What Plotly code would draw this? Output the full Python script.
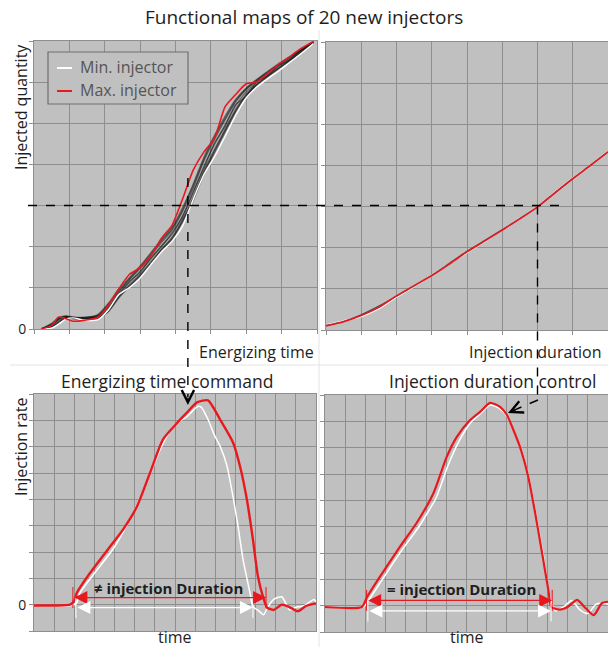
import plotly.graph_objects as go

W, H = 608, 647

# ---------------- data ----------------
# Top-left: injected quantity vs energizing time, 20 new injectors
ET_X = [0.2, 0.5, 0.7, 0.9, 1.1, 1.4, 1.8, 2.1, 2.4, 2.7, 3.0, 3.3, 3.6, 3.9,
        4.2, 4.5, 4.8, 5.1, 5.4, 5.7, 6.0, 6.3, 6.6, 6.9, 7.2, 7.5, 7.9]
ET_MAX = [0.0, 0.09, 0.29, 0.25, 0.19, 0.21, 0.28, 0.57, 0.98, 1.33, 1.49, 1.78, 2.2, 2.52,
          3.16, 3.86, 4.3, 4.63, 5.4, 5.7, 5.96, 6.01, 6.21, 6.42, 6.6, 6.79, 6.99]
ET_MIN = [0.0, 0.02, 0.12, 0.24, 0.27, 0.22, 0.22, 0.46, 0.84, 1.01, 1.24, 1.56, 1.87, 2.13,
          2.5, 3.15, 3.75, 4.18, 4.68, 5.19, 5.62, 5.88, 6.08, 6.26, 6.46, 6.66, 6.94]
ET_INJ_A = [0.0, 0.1, 0.22, 0.3, 0.27, 0.27, 0.3, 0.5, 0.86, 1.13, 1.4, 1.7, 2.02, 2.3,
            2.75, 3.3, 3.95, 4.48, 4.96, 5.43, 5.76, 6.0, 6.2, 6.38, 6.55, 6.73, 6.96]
ET_INJ_B = [0.0, 0.12, 0.26, 0.31, 0.28, 0.27, 0.33, 0.56, 0.93, 1.2, 1.47, 1.78, 2.1, 2.4,
            2.86, 3.42, 4.08, 4.6, 5.08, 5.52, 5.82, 6.04, 6.23, 6.41, 6.58, 6.75, 6.97]
ET_INJ_C = [0.0, 0.07, 0.18, 0.28, 0.26, 0.25, 0.28, 0.45, 0.8, 1.07, 1.33, 1.63, 1.94, 2.22,
            2.66, 3.2, 3.84, 4.36, 4.85, 5.34, 5.7, 5.95, 6.16, 6.34, 6.52, 6.71, 6.95]
ET_INJ_D = [0.0, 0.14, 0.28, 0.32, 0.29, 0.28, 0.35, 0.62, 0.98, 1.25, 1.53, 1.85, 2.17, 2.47,
            2.95, 3.52, 4.17, 4.7, 5.17, 5.58, 5.86, 6.07, 6.26, 6.44, 6.6, 6.77, 6.98]
ET_INJ_E = [0.0, 0.05, 0.15, 0.27, 0.25, 0.24, 0.26, 0.42, 0.76, 1.03, 1.28, 1.58, 1.9, 2.17,
            2.6, 3.12, 3.76, 4.28, 4.78, 5.28, 5.66, 5.93, 6.13, 6.32, 6.5, 6.69, 6.94]
ET_INJ_F = [0.0, 0.09, 0.24, 0.3, 0.26, 0.28, 0.31, 0.52, 0.84, 1.16, 1.38, 1.73, 2.0, 2.34,
            2.72, 3.35, 3.9, 4.52, 4.92, 5.46, 5.64, 6.02, 6.15, 6.4, 6.53, 6.74, 6.96]
ET_INJ_G = [0.0, 0.11, 0.25, 0.29, 0.28, 0.26, 0.32, 0.6, 0.9, 1.22, 1.5, 1.82, 2.14, 2.44,
            2.9, 3.48, 4.12, 4.66, 5.12, 5.55, 5.84, 6.05, 6.24, 6.42, 6.59, 6.76, 6.97]
ET_INJ_H = [0.0, 0.06, 0.17, 0.27, 0.27, 0.25, 0.27, 0.43, 0.78, 1.05, 1.3, 1.6, 1.92, 2.2,
            2.63, 3.16, 3.8, 4.32, 4.82, 5.3, 5.68, 5.94, 6.14, 6.33, 6.51, 6.7, 6.95]

# Top-right: injected quantity vs injection duration
ID_X = [0, 0.5, 1, 1.5, 2, 2.5, 3, 3.5, 4, 4.5, 5, 5.5, 6, 6.5, 7, 7.5, 8]
ID_MAX = [0.1, 0.2, 0.35, 0.55, 0.83, 1.08, 1.32, 1.6, 1.9, 2.16, 2.43, 2.7, 2.99, 3.34, 3.68, 4.0, 4.33]
ID_MIN = [0.12, 0.22, 0.33, 0.52, 0.8, 1.06, 1.33, 1.61, 1.88, 2.15, 2.44, 2.71, 3.0, 3.35, 3.69, 4.01, 4.34]
ID_INJ_A = [0.11, 0.21, 0.37, 0.58, 0.82, 1.07, 1.33, 1.62, 1.91, 2.17, 2.44, 2.71, 2.99, 3.34, 3.68, 4.0, 4.33]

# Bottom-left: injection rate with energizing time command
ETC_MAX_T = [0.0, 1.0, 1.8, 2.0, 2.13, 2.78, 3.77, 4.42, 5.11, 5.76, 6.4, 7.1, 7.65, 8.09, 8.64,
             9.24, 9.88, 10.23, 10.57, 10.87, 11.12, 11.37, 11.57, 11.9, 12.3, 12.7, 13.1, 13.5, 14.0]
ETC_MAX_RATE = [-0.03, -0.03, 0.0, 0.15, 0.45, 1.2, 2.2, 2.85, 3.73, 5.0, 6.27, 6.9, 7.34, 7.68, 7.76,
                7.03, 6.16, 5.25, 3.99, 2.47, 1.06, 0.3, -0.11, -0.2, 0.0, -0.1, -0.25, -0.05, 0.05]
ETC_MIN_T = [0.0, 1.8, 2.1, 2.28, 2.94, 4.0, 4.93, 5.6, 6.26, 6.9, 7.6, 8.14, 8.3, 8.64, 8.95,
             9.25, 9.57, 9.88, 10.13, 10.38, 10.72, 10.87, 11.1, 11.4, 11.6, 11.9, 12.3, 12.7,
             13.0, 13.4, 13.9, 14.0]
ETC_MIN_RATE = [-0.03, -0.03, 0.05, 0.45, 1.13, 2.2, 3.5, 4.64, 5.89, 6.77, 7.15, 7.53, 7.5, 7.03, 6.45,
                6.0, 5.3, 4.1, 2.97, 1.71, 0.45, -0.08, -0.2, -0.38, -0.1, 0.2, 0.3, -0.2,
                -0.1, -0.05, 0.2, 0.1]

# Bottom-right: injection rate with injection duration control
IDC_MAX_T = [0.0, 1.83, 2.06, 2.72, 3.71, 4.54, 5.37, 6.02, 6.52, 7.18, 7.67, 8.17, 8.66, 9.0,
             9.32, 9.65, 10.06, 10.4, 10.74, 11.05, 11.2, 11.6, 12.0, 12.47, 12.9, 13.3, 13.7, 14.0]
IDC_MAX_RATE = [-0.05, -0.05, 0.3, 1.1, 2.24, 3.15, 4.28, 5.65, 6.41, 7.05, 7.36, 7.7, 7.55, 7.24,
                6.67, 6.02, 4.88, 3.51, 2.0, 0.59, -0.05, -0.15, -0.05, 0.22, -0.1, -0.36, 0.1, 0.15]
IDC_MIN_T = [0.0, 1.9, 2.15, 2.8, 3.75, 4.6, 5.05, 5.5, 6.1, 6.6, 7.2, 7.7, 8.17, 8.6, 9.0,
             9.35, 9.7, 10.1, 10.45, 10.8, 11.1, 11.4, 11.8, 12.2, 12.6, 13.0, 13.4, 13.8, 14.0]
IDC_MIN_RATE = [-0.05, -0.05, 0.2, 0.95, 2.05, 2.95, 3.5, 4.1, 5.35, 6.2, 6.95, 7.3, 7.62, 7.5, 7.2,
                6.6, 5.95, 4.8, 3.4, 1.9, 0.4, -0.2, -0.05, 0.2, -0.15, -0.3, 0.05, 0.1, 0.05]

# Operating point used for both command strategies
OP_QUANTITY = 3.0
OP_ENERGIZING = 4.35
OP_DURATION = 6.0

# Injection duration spans (start, end, level) for min / max injectors
ETC_MAX_SPAN = (1.93, 11.52, 0.27)
ETC_MIN_SPAN = (2.08, 10.87, -0.11)
IDC_MAX_SPAN = (2.06, 11.24, 0.2)
IDC_MIN_SPAN = (2.12, 11.18, -0.2)

# ---------------- styling ----------------
RED = "#e8191e"
WHITE = "#ffffff"
DARK = "rgba(20,20,20,0.5)"
GRID = "#8e8e8e"
BG = "#c0c0c0"
TXT = "#1e1e1e"
FONT = "Open Sans"


def fx(p):
    return p / W


def fy(p):
    return 1 - p / H


TL_DOM = ([fx(34), fx(317)], [fy(329), fy(41)])
TR_DOM = ([fx(326), 1.0], [fy(330), fy(42)])
BL_DOM = ([fx(34), fx(316)], [fy(631), fy(394)])
BR_DOM = ([fx(325), 1.0], [fy(632), fy(395)])

fig = go.Figure()


def line(x, y, xa, ya, color, width):
    fig.add_trace(go.Scatter(x=x, y=y, xaxis=xa, yaxis=ya, mode="lines",
                             line=dict(color=color, width=width, shape="spline", smoothing=0.6),
                             hoverinfo="skip", showlegend=False))


for other in (ET_INJ_A, ET_INJ_B, ET_INJ_C, ET_INJ_D, ET_INJ_E, ET_INJ_F, ET_INJ_G, ET_INJ_H):
    line(ET_X, other, "x", "y", DARK, 1.4)
line(ET_X, ET_MIN, "x", "y", WHITE, 1.4)
line(ET_X, ET_MAX, "x", "y", RED, 1.6)

line(ID_X, ID_MIN, "x2", "y2", WHITE, 1.6)
line(ID_X, ID_INJ_A, "x2", "y2", "rgba(25,25,25,0.7)", 1.4)
line(ID_X, ID_MAX, "x2", "y2", RED, 1.6)

line(ETC_MIN_T, ETC_MIN_RATE, "x3", "y3", WHITE, 1.5)
line(ETC_MAX_T, ETC_MAX_RATE, "x3", "y3", RED, 2.4)

line(IDC_MIN_T, IDC_MIN_RATE, "x4", "y4", WHITE, 1.5)
line(IDC_MAX_T, IDC_MAX_RATE, "x4", "y4", RED, 2.2)


def xax(dom, n, ticks):
    return dict(domain=dom, range=[0, n], tickvals=list(range(n + 1)), showticklabels=False,
                ticks="outside" if ticks else "", ticklen=4, tickcolor=GRID,
                showgrid=True, gridcolor=GRID, gridwidth=1, showline=True, linecolor=GRID,
                linewidth=1, mirror=True, zeroline=False, fixedrange=True)


def yax(dom, lo, hi, label):
    vals = list(range(lo, hi + 1))
    return dict(domain=dom, range=[lo, hi], tickvals=vals,
                ticktext=["0" if (v == 0 and label) else "" for v in vals],
                tickfont=dict(family=FONT, size=14, color=TXT),
                ticks="outside", ticklen=4, tickcolor=GRID,
                showgrid=True, gridcolor=GRID, gridwidth=1, showline=True, linecolor=GRID,
                linewidth=1, mirror=True, zeroline=False, fixedrange=True)


fig.update_layout(
    width=W, height=H, margin=dict(l=0, r=0, t=0, b=0),
    paper_bgcolor="white", plot_bgcolor=BG, template="none", showlegend=False,
    font=dict(family=FONT, color=TXT),
    xaxis=xax(TL_DOM[0], 8, True), yaxis=yax(TL_DOM[1], 0, 7, True),
    xaxis2=xax(TR_DOM[0], 8, True), yaxis2=yax(TR_DOM[1], 0, 7, False),
    xaxis3=xax(BL_DOM[0], 14, False), yaxis3=yax(BL_DOM[1], -1, 8, True),
    xaxis4=xax(BR_DOM[0], 14, False), yaxis4=yax(BR_DOM[1], -1, 8, False),
)
fig.layout.xaxis2.anchor = "y2"
fig.layout.yaxis2.anchor = "x2"
fig.layout.xaxis3.anchor = "y3"
fig.layout.yaxis3.anchor = "x3"
fig.layout.xaxis4.anchor = "y4"
fig.layout.yaxis4.anchor = "x4"

shapes = []
# light separators between the four panels
shapes.append(dict(type="line", xref="paper", yref="paper", x0=fx(10), x1=1, y0=fy(365), y1=fy(365),
                   line=dict(color="#e4e4e4", width=1)))
shapes.append(dict(type="line", xref="paper", yref="paper", x0=fx(319), x1=fx(319), y0=fy(30), y1=0,
                   line=dict(color="#e4e4e4", width=1)))

dash = dict(color="black", width=1.4, dash="dash")
# operating-point guides
shapes.append(dict(type="line", xref="paper", yref="y", x0=fx(28), x1=fx(567),
                   y0=OP_QUANTITY, y1=OP_QUANTITY, line=dash))
shapes.append(dict(type="line", xref="x", yref="paper", x0=OP_ENERGIZING, x1=OP_ENERGIZING,
                   y0=fy(178), y1=fy(397), line=dash))
q_paper = TL_DOM[1][0] + OP_QUANTITY / 7 * (TL_DOM[1][1] - TL_DOM[1][0])
shapes.append(dict(type="line", xref="x2", yref="paper", x0=OP_DURATION, x1=OP_DURATION,
                   y0=q_paper, y1=fy(400), line=dash))
shapes.append(dict(type="line", xref="paper", yref="paper", x0=fx(538), x1=fx(512),
                   y0=fy(400), y1=fy(411), line=dash))

# legend frame and samples
shapes.append(dict(type="rect", xref="paper", yref="paper", x0=fx(48), x1=fx(188), y0=fy(104), y1=fy(52),
                   line=dict(color="#6e6e6e", width=1.2), fillcolor=BG))
shapes.append(dict(type="line", xref="paper", yref="paper", x0=fx(57), x1=fx(72), y0=fy(68), y1=fy(68),
                   line=dict(color=WHITE, width=2)))
shapes.append(dict(type="line", xref="paper", yref="paper", x0=fx(57), x1=fx(72), y0=fy(91), y1=fy(91),
                   line=dict(color=RED, width=2)))

# end ticks of duration spans
for (xa, ya, span, col) in (("x3", "y3", ETC_MAX_SPAN, RED), ("x3", "y3", ETC_MIN_SPAN, WHITE),
                            ("x4", "y4", IDC_MAX_SPAN, RED), ("x4", "y4", IDC_MIN_SPAN, WHITE)):
    for xv in (span[0], span[1]):
        shapes.append(dict(type="line", xref=xa, yref=ya, x0=xv, x1=xv,
                           y0=span[2] - 0.4, y1=span[2] + 0.4, line=dict(color=col, width=1)))
fig.update_layout(shapes=shapes)

ann = []


def text(t, x, y, size=16, xanchor="center", angle=0, bold=False, color=TXT):
    ann.append(dict(text=f"<b>{t}</b>" if bold else t, x=fx(x), y=fy(y), xref="paper", yref="paper",
                    xanchor=xanchor, yanchor="middle", showarrow=False, textangle=angle,
                    font=dict(family=FONT, size=size, color=color)))


text("Functional maps of 20 new injectors", 304, 17, size=19)
text("Injected quantity", 21, 107, angle=-90)
text("Energizing time", 316, 352, xanchor="right")
text("Injection duration", 604, 352, xanchor="right")
text("Energizing time command", 167, 381, size=17.5)
text("Injection duration control", 492, 381, size=17.5)
text("Injection rate", 21, 447, angle=-90)
text("time", 175, 637)
text("time", 467, 637)
text("Min. injector", 78, 67, size=16, xanchor="left", color="#555555")
text("Max. injector", 78, 90, size=16, xanchor="left", color="#555555")

# duration labels
ann.append(dict(text="<b>≠ injection Duration</b>", x=(ETC_MAX_SPAN[0] + ETC_MAX_SPAN[1]) / 2 - 0.07,
                y=ETC_MAX_SPAN[2] + 0.36, xref="x3", yref="y3", showarrow=False, yanchor="middle",
                font=dict(family=FONT, size=15, color=TXT)))
ann.append(dict(text="<b>= injection Duration</b>", x=(IDC_MAX_SPAN[0] + IDC_MAX_SPAN[1]) / 2 + 0.1,
                y=IDC_MAX_SPAN[2] + 0.42, xref="x4", yref="y4", showarrow=False, yanchor="middle",
                font=dict(family=FONT, size=15, color=TXT)))

# double-headed duration arrows
for (xa, ya, span, col) in (("x3", "y3", ETC_MAX_SPAN, RED), ("x3", "y3", ETC_MIN_SPAN, WHITE),
                            ("x4", "y4", IDC_MAX_SPAN, RED), ("x4", "y4", IDC_MIN_SPAN, WHITE)):
    ann.append(dict(text="", x=span[1], y=span[2], ax=span[0], ay=span[2], xref=xa, yref=ya,
                    axref=xa, ayref=ya, showarrow=True, arrowside="end+start",
                    arrowhead=2, startarrowhead=2, arrowsize=2.0, startarrowsize=2.0,
                    arrowwidth=1.3, arrowcolor=col, standoff=0, startstandoff=0))

# arrowheads of the operating-point guides
ann.append(dict(text="", x=OP_ENERGIZING, y=fy(405), xref="x", yref="paper", ax=0, ay=-9,
                showarrow=True, arrowhead=5, arrowsize=2.2, arrowwidth=1.1, arrowcolor="black", standoff=0))
ann.append(dict(text="", x=fx(508), y=fy(413), xref="paper", yref="paper", ax=9, ay=-4,
                showarrow=True, arrowhead=5, arrowsize=2.2, arrowwidth=1.1, arrowcolor="black", standoff=0))

fig.update_layout(annotations=ann)

fig.write_html("out.html")
